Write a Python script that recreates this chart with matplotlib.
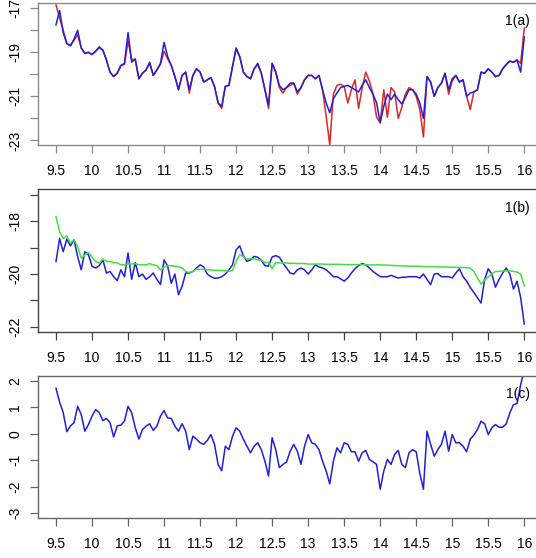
import numpy as np
import matplotlib
matplotlib.use('Agg')
import matplotlib.pyplot as plt

plt.rcParams['font.family'] = ['Liberation Sans', 'DejaVu Sans']
plt.rcParams['lines.solid_joinstyle'] = 'round'

# time axis (sampled every 0.05)
t = np.round(np.arange(9.5, 16.0001, 0.05), 2)

# panel 1(a)
a_blue = [-17.75, -17.10, -18.10, -18.60, -18.70, -18.40, -18.00, -18.80, -19.05, -19.00,
          -19.10, -18.95, -18.75, -18.90, -19.35, -19.90, -20.10, -19.95, -19.60, -19.50,
          -18.10, -19.45, -19.30, -20.20, -19.95, -19.80, -19.45, -20.05, -19.80, -19.50,
          -18.55, -19.20, -19.60, -20.10, -20.70, -20.05, -19.90, -20.70, -20.05, -19.75,
          -19.90, -20.35, -20.25, -20.15, -20.55, -21.30, -21.45, -20.55, -20.50, -19.65,
          -18.80, -19.20, -19.90, -20.10, -20.20, -19.75, -19.50, -19.95, -20.70, -21.40,
          -19.50, -19.90, -20.50, -20.70, -20.60, -20.40, -20.40, -20.80, -20.60, -20.25,
          -20.05, -20.05, -20.20, -20.05, -20.70, -21.30, -21.75, -21.10, -20.85, -20.60,
          -20.55, -20.50, -20.60, -20.70, -20.80, -20.50, -20.25, -20.60, -20.90, -21.30,
          -22.20, -21.45, -20.90, -21.15, -20.90, -21.15, -21.35, -21.05, -20.70, -20.70,
          -20.90, -21.30, -22.00, -20.10, -20.35, -21.00, -20.60, -20.40, -19.95, -20.70,
          -20.20, -20.05, -20.35, -20.25, -21.00, -20.85, -20.80, -20.70, -19.90, -19.95,
          -19.75, -19.90, -20.10, -20.05, -19.75, -19.55, -19.40, -19.45, -19.35, -19.90,
          -18.30]
a_red = [-16.85, -17.45, -18.00, -18.60, -18.70, -18.45, -18.20, -18.80, -19.05, -19.00,
         -19.10, -18.95, -18.80, -18.90, -19.35, -19.90, -20.10, -19.95, -19.60, -19.55,
         -18.50, -19.30, -19.35, -20.20, -19.95, -19.80, -19.50, -20.05, -19.80, -19.55,
         -18.95, -19.30, -19.60, -20.10, -20.70, -20.05, -19.90, -20.85, -20.05, -19.75,
         -19.90, -20.35, -20.25, -20.15, -20.55, -21.30, -21.55, -20.55, -20.50, -19.65,
         -18.85, -19.20, -19.90, -20.10, -20.20, -19.75, -19.55, -19.95, -20.70, -21.55,
         -19.50, -19.90, -20.60, -20.85, -20.60, -20.50, -20.40, -20.90, -20.60, -20.25,
         -20.05, -20.05, -20.20, -20.05, -20.70, -21.90, -23.20, -20.90, -20.50, -20.45,
         -20.55, -21.30, -20.70, -20.25, -21.55, -20.60, -19.90, -20.30, -20.90, -21.95,
         -22.20, -20.70, -21.95, -20.60, -20.80, -22.00, -21.50, -20.90, -20.60, -20.70,
         -21.00, -21.60, -22.85, -20.10, -20.35, -21.00, -20.60, -20.40, -19.95, -20.90,
         -20.30, -20.05, -20.35, -20.25, -21.00, -21.60, -20.80, -20.70, -19.90, -19.95,
         -19.75, -19.90, -20.10, -20.05, -19.75, -19.55, -19.40, -19.45, -19.35, -19.50,
         -17.90]

# panel 1(b)
b_blue = [-19.52, -18.65, -19.15, -18.67, -18.93, -18.70, -19.33, -19.84, -19.15, -19.27,
          -19.70, -19.77, -19.68, -19.46, -19.96, -19.90, -20.10, -20.25, -19.84, -20.10,
          -19.20, -20.20, -19.56, -20.10, -20.00, -20.20, -20.10, -19.96, -20.20, -20.40,
          -19.46, -19.70, -20.35, -20.00, -20.78, -20.47, -19.96, -19.96, -19.90, -19.77,
          -19.65, -19.73, -20.00, -20.10, -20.16, -20.15, -20.10, -20.00, -19.84, -19.65,
          -19.08, -18.93, -19.30, -19.52, -19.46, -19.33, -19.36, -19.48, -19.68, -19.70,
          -19.35, -19.30, -19.36, -19.58, -19.77, -19.96, -20.00, -19.84, -19.77, -19.84,
          -20.00, -19.84, -19.65, -19.73, -19.77, -19.84, -19.96, -20.10, -20.10, -20.18,
          -20.27, -20.15, -19.96, -19.80, -19.68, -19.60, -19.65, -19.77, -19.90, -20.00,
          -20.10, -20.10, -20.10, -20.05, -20.10, -20.15, -20.12, -20.12, -20.10, -20.10,
          -20.10, -20.15, -20.00, -20.20, -20.40, -20.00, -19.98, -20.10, -20.10, -20.10,
          -20.15, -19.96, -19.80, -20.10, -20.27, -20.50, -20.70, -20.90, -21.10, -20.20,
          -19.80, -20.00, -20.50, -20.20, -19.96, -19.77, -20.00, -20.57, -20.27, -20.90,
          -21.90]
b_green = [-17.82, -18.40, -18.65, -18.55, -18.83, -18.70, -18.96, -19.40, -19.27, -19.18,
           -19.36, -19.52, -19.58, -19.43, -19.52, -19.52, -19.56, -19.58, -19.65, -19.65,
           -19.62, -19.62, -19.60, -19.65, -19.65, -19.65, -19.60, -19.65, -19.68, -19.84,
           -19.74, -19.68, -19.68, -19.70, -19.72, -19.77, -19.90, -19.94, -19.90, -19.82,
           -19.82, -19.82, -19.84, -19.84, -19.86, -19.86, -19.86, -19.88, -19.90, -19.86,
           -19.52, -19.27, -19.33, -19.43, -19.42, -19.42, -19.46, -19.48, -19.56, -19.56,
           -19.80, -19.56, -19.58, -19.58, -19.58, -19.59, -19.59, -19.60, -19.60, -19.60,
           -19.62, -19.62, -19.62, -19.62, -19.62, -19.63, -19.63, -19.63, -19.63, -19.63,
           -19.64, -19.64, -19.64, -19.64, -19.64, -19.64, -19.65, -19.65, -19.65, -19.65,
           -19.65, -19.66, -19.66, -19.67, -19.68, -19.68, -19.69, -19.69, -19.70, -19.70,
           -19.70, -19.71, -19.71, -19.72, -19.72, -19.72, -19.73, -19.73, -19.73, -19.74,
           -19.74, -19.74, -19.75, -19.75, -19.76, -19.78, -19.90, -20.15, -20.38, -20.22,
           -20.10, -20.00, -19.90, -19.90, -19.88, -19.88, -19.88, -19.90, -19.92, -20.00,
           -20.45]

# panel 1(c)
c_blue = [1.72, 1.20, 0.80, 0.08, 0.30, 0.42, 1.04, 0.73, 0.10, 0.35,
          0.67, 0.92, 0.80, 0.50, 0.58, 0.42, -0.12, 0.30, 0.33, 0.48,
          1.04, 0.80, 0.23, -0.20, 0.16, 0.29, 0.38, 0.13, 0.29, 0.67,
          0.88, 0.60, 0.58, 0.29, 0.10, 0.38, 0.10, -0.60, -0.09, -0.20,
          -0.34, -0.40, -0.25, -0.03, -0.40, -1.16, -1.40, -0.47, -0.60, -0.09,
          0.23, 0.10, -0.20, -0.47, -0.72, -0.47, -0.34, -0.60, -1.04, -1.60,
          -0.15, -0.60, -1.28, -1.16, -1.07, -0.66, -0.40, -0.66, -1.16, -0.47,
          -0.03, -0.34, -0.40, -0.60, -1.04, -1.41, -1.90, -1.04, -0.53, -0.72,
          -0.34, -0.40, -0.68, -0.68, -1.04, -0.72, -0.63, -0.97, -1.06, -1.16,
          -2.10, -1.41, -0.97, -1.16, -0.78, -0.63, -1.16, -1.28, -0.72, -0.60,
          -0.68, -1.50, -2.10, 0.10, -0.40, -0.85, -0.60, -0.40, 0.10, -0.66,
          -0.03, -0.34, -0.34, -0.47, -0.68, -0.20, -0.05, 0.16, 0.48, 0.38,
          -0.03, 0.23, 0.35, 0.25, 0.25, 0.38, 0.80, 1.10, 1.15, 1.87,
          2.40]

xticks = [9.5, 10, 10.5, 11, 11.5, 12, 12.5, 13, 13.5, 14, 14.5, 15, 15.5, 16]
xlabels = ['9.5', '10', '10.5', '11', '11.5', '12', '12.5', '13', '13.5', '14',
           '14.5', '15', '15.5', '16']

fig = plt.figure(figsize=(5.36, 5.58), dpi=100)

W, H = 536.0, 558.0
def add_panel(top, bottom, edge):
    # box runs past the right edge of the picture, as in the original
    ax = fig.add_axes([38 / W, 1 - bottom / H, 505 / W, (bottom - top) / H])
    for s in ax.spines.values():
        s.set_color(edge)
        s.set_linewidth(1.0)
    ax.tick_params(direction='out', length=5.5, width=0.9, color=edge,
                   labelsize=10, pad=6)
    ax.tick_params(axis='x', pad=8)
    ax.set_xlim(9.25, 16.26)
    ax.set_xticks(xticks)
    ax.set_xticklabels(xlabels)
    return ax

ax1 = add_panel(3, 145, '#8a8a8a')
ax1.plot(t, a_red, color='#e02525', lw=1.1)
ax1.plot(t, a_blue, color='#2020d8', lw=1.1)
ax1.set_ylim(-23.21, -16.76)
ax1.set_yticks([-23, -22, -21, -20, -19, -18, -17])
ax1.set_yticklabels(['-23', '', '-21', '', '-19', '', '-17'], rotation=90, va='center')
ax1.text(0.950, 0.872, '1(a)', transform=ax1.transAxes, ha='center', va='center', fontsize=10)

ax2 = add_panel(189, 332, '#444444')
ax2.plot(t, b_blue, color='#2020d8', lw=1.1)
ax2.plot(t, b_green, color='#3fe03f', lw=1.1)
ax2.set_ylim(-22.2, -16.77)
ax2.set_yticks([-22, -21, -20, -19, -18, -17])
ax2.set_yticklabels(['-22', '', '-20', '', '-18', ''], rotation=90, va='center')
ax2.text(0.950, 0.867, '1(b)', transform=ax2.transAxes, ha='center', va='center', fontsize=10)

ax3 = add_panel(376, 518, '#666666')
ax3.plot(t, c_blue, color='#2020d8', lw=1.1)
ax3.set_ylim(-3.19, 2.19)
ax3.set_yticks([-3, -2, -1, 0, 1, 2])
ax3.set_yticklabels(['-3', '-2', '-1', '0', '1', '2'], rotation=90, va='center')
ax3.text(0.950, 0.873, '1(c)', transform=ax3.transAxes, ha='center', va='center', fontsize=10)

fig.savefig('out.png', dpi=100)
